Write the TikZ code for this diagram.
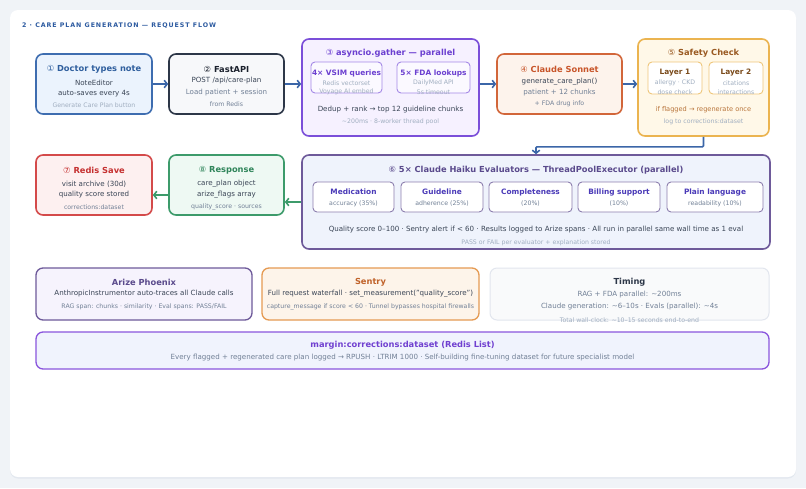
\documentclass[tikz,border=0pt]{standalone}
\usepackage{fontspec}
\setmainfont{DejaVu Sans}
\newfontfamily\hdrfont[LetterSpace=15]{DejaVu Sans}
\usetikzlibrary{arrows.meta,calc}
\definecolor{bgc}{HTML}{F0F3F7}
\definecolor{shd}{HTML}{E3E8EF}
\definecolor{hdrc}{HTML}{2C5AA0}
\definecolor{txd}{HTML}{3A4556}
\definecolor{txg}{HTML}{718096}
\definecolor{txl}{HTML}{A0AEC0}
\definecolor{bluB}{HTML}{3E6DB0}
\definecolor{bluF}{HTML}{EBF3FD}
\definecolor{bluT}{HTML}{2F5F9E}
\definecolor{arrB}{HTML}{3B66A8}
\definecolor{drkB}{HTML}{2D3748}
\definecolor{drkF}{HTML}{F7F8FA}
\definecolor{drkT}{HTML}{1A202C}
\definecolor{purB}{HTML}{7B4FD9}
\definecolor{purF}{HTML}{F6F1FF}
\definecolor{purT}{HTML}{6B3FD0}
\definecolor{purI}{HTML}{A488E6}
\definecolor{ornB}{HTML}{D2663A}
\definecolor{ornF}{HTML}{FDF3EC}
\definecolor{ornT}{HTML}{C8552A}
\definecolor{ylwB}{HTML}{EBB450}
\definecolor{ylwF}{HTML}{FFF8E8}
\definecolor{ylwI}{HTML}{EEC67A}
\definecolor{ylwT}{HTML}{9A5A22}
\definecolor{ylwD}{HTML}{7A4A1A}
\definecolor{ylwS}{HTML}{B8743A}
\definecolor{evB}{HTML}{6E5A9A}
\definecolor{evF}{HTML}{EFF3FC}
\definecolor{evT}{HTML}{5A4A8C}
\definecolor{evI}{HTML}{8C7EAE}
\definecolor{evN}{HTML}{4A3AB8}
\definecolor{redB}{HTML}{D44A4A}
\definecolor{redF}{HTML}{FDF0F0}
\definecolor{redT}{HTML}{C53030}
\definecolor{grnB}{HTML}{3D9B6B}
\definecolor{grnF}{HTML}{EEF9F3}
\definecolor{grnT}{HTML}{2F855A}
\definecolor{arzF}{HTML}{F6F3FD}
\definecolor{senB}{HTML}{E59A52}
\definecolor{senF}{HTML}{FDF4EA}
\definecolor{senT}{HTML}{C0622A}
\definecolor{tmB}{HTML}{E2E6EE}
\definecolor{tmF}{HTML}{F9FAFB}
\definecolor{mgB}{HTML}{8A55DD}
\definecolor{mgF}{HTML}{F0F3FD}
\definecolor{mgT}{HTML}{7040D0}
\newcommand\cnum[1]{{\mdseries #1}}
\tikzset{
  box/.style={rounded corners=7pt, line width=1.6pt, inner sep=0pt},
  ibox/.style={rounded corners=4pt, line width=0.9pt, inner sep=0pt, fill=white},
  ttl/.style={inner sep=0pt, font=\bfseries\fontsize{8.3}{10}\selectfont},
  ittl/.style={inner sep=0pt, font=\bfseries\fontsize{7.4}{9}\selectfont},
  bd/.style={inner sep=0pt, font=\fontsize{7.1}{9}\selectfont, text=txd},
  bg/.style={inner sep=0pt, font=\fontsize{7.1}{9}\selectfont, text=txg},
  sm/.style={inner sep=0pt, font=\fontsize{6.2}{8}\selectfont, text=txg},
  sl/.style={inner sep=0pt, font=\fontsize{6.2}{8}\selectfont, text=txl},
  arr/.style={line width=1.6pt, -{Straight Barb[length=3pt,width=7.5pt]}},
}
\begin{document}
\begin{tikzpicture}[x=1pt,y=-1pt]
\fill[bgc] (0,0) rectangle (806,488);
\useasboundingbox (0,0) rectangle (806,488);
\fill[shd, rounded corners=8pt] (10,11.5) rectangle (796,478.5);
\fill[white, rounded corners=8pt] (10,10) rectangle (796,477);

\node[anchor=west, inner sep=0pt, text=hdrc, font=\hdrfont\bfseries\fontsize{6.3}{8}\selectfont] (hdr) at (22,26) {2 · CARE PLAN GENERATION — REQUEST FLOW};

% Box 1
\node[box, draw=bluB, fill=bluF, minimum width=116pt, minimum height=60pt] (b1) at (94,84) {};
\node[ttl, text=bluT] (b1t) at (94,69) {\cnum{①} Doctor types note};
\node[bd] (b1a) at (94,83) {NoteEditor};
\node[bd] (b1b) at (94,94) {auto-saves every 4s};
\node[sl] (b1c) at (94,105) {Generate Care Plan button};

% Box 2
\node[box, draw=drkB, fill=drkF, minimum width=115pt, minimum height=60pt] (b2) at (226.5,84) {};
\node[ttl, text=drkT] (b2t) at (226.5,69) {\cnum{②} FastAPI};
\node[bd] (b2a) at (226.5,81) {POST /api/care-plan};
\node[bg] (b2b) at (226.5,93) {Load patient + session};
\node[sm] (b2c) at (226.5,104) {from Redis};

% Box 3
\node[box, draw=purB, fill=purF, minimum width=177pt, minimum height=97pt] (b3) at (390.5,87.5) {};
\node[ttl, text=purT] (b3t) at (390.5,53) {\cnum{③} asyncio.gather — parallel};
\node[ibox, draw=purI, fill=white!60!purF, minimum width=71pt, minimum height=31pt] (b3i1) at (346.5,77.5) {};
\node[ibox, draw=purI, fill=white!60!purF, minimum width=73pt, minimum height=31pt] (b3i2) at (433.5,77.5) {};
\node[ittl, text=purT] (b3i1t) at (346.5,73) {4× VSIM queries};
\node[sl] (b3i1a) at (346.5,83) {Redis vectorset};
\node[sl] (b3i1b) at (346.5,92) {Voyage AI embed};
\node[ittl, text=purT] (b3i2t) at (433.5,73) {5× FDA lookups};
\node[sl] (b3i2a) at (433.5,83) {DailyMed API};
\node[sl] (b3i2b) at (433.5,92) {5s timeout};
\node[bd] (b3a) at (390.5,110) {Dedup + rank → top 12 guideline chunks};
\node[sl] (b3b) at (390.5,122) {\textasciitilde200ms · 8-worker thread pool};

% Box 4
\node[box, draw=ornB, fill=ornF, minimum width=125pt, minimum height=60pt] (b4) at (559.5,84) {};
\node[ttl, text=ornT] (b4t) at (559.5,69) {\cnum{④} Claude Sonnet};
\node[bd] (b4a) at (559.5,82) {generate\_care\_plan()};
\node[bg] (b4b) at (559.5,93) {patient + 12 chunks};
\node[sm] (b4c) at (559.5,104) {+ FDA drug info};

% Box 5
\node[box, draw=ylwB, fill=ylwF, minimum width=131pt, minimum height=97pt] (b5) at (703.5,87.5) {};
\node[ttl, text=ylwT] (b5t) at (703.5,53) {\cnum{⑤} Safety Check};
\node[ibox, draw=ylwI, minimum width=54pt, minimum height=32pt] (b5i1) at (675,78) {};
\node[ibox, draw=ylwI, minimum width=54pt, minimum height=32pt] (b5i2) at (736,78) {};
\node[ittl, text=ylwD] (b5i1t) at (675,73) {Layer 1};
\node[sl] (b5i1a) at (675,83) {allergy · CKD};
\node[sl] (b5i1b) at (675,92) {dose check};
\node[ittl, text=ylwD] (b5i2t) at (736,73) {Layer 2};
\node[sl] (b5i2a) at (736,83) {citations};
\node[sl] (b5i2b) at (736,92) {interactions};
\node[inner sep=0pt, font=\fontsize{6.6}{8}\selectfont, text=ylwS] (b5a) at (703.5,110) {if flagged → regenerate once};
\node[sl] (b5b) at (703.5,122) {log to corrections:dataset};

% Box 6
\node[box, draw=evB, fill=evF, minimum width=468pt, minimum height=94pt] (b6) at (536,202) {};
\node[ttl, text=evT] (b6t) at (536,170) {\cnum{⑥} 5× Claude Haiku Evaluators — ThreadPoolExecutor (parallel)};
\node[ibox, draw=evI, minimum width=81pt, minimum height=30pt] (e1) at (353.5,197) {};
\node[ibox, draw=evI, minimum width=82pt, minimum height=30pt] (e2) at (442,197) {};
\node[ibox, draw=evI, minimum width=83pt, minimum height=30pt] (e3) at (530.5,197) {};
\node[ibox, draw=evI, minimum width=82pt, minimum height=30pt] (e4) at (619,197) {};
\node[ibox, draw=evI, minimum width=96pt, minimum height=30pt] (e5) at (715,197) {};
\node[ittl, text=evN] (e1t) at (353.5,192) {Medication};
\node[sm] (e1a) at (353.5,204) {accuracy (35\%)};
\node[ittl, text=evN] (e2t) at (442,192) {Guideline};
\node[sm] (e2a) at (442,204) {adherence (25\%)};
\node[ittl, text=evN] (e3t) at (530.5,192) {Completeness};
\node[sm] (e3a) at (530.5,204) {(20\%)};
\node[ittl, text=evN] (e4t) at (619,192) {Billing support};
\node[sm] (e4a) at (619,204) {(10\%)};
\node[ittl, text=evN] (e5t) at (715,192) {Plain language};
\node[sm] (e5a) at (715,204) {readability (10\%)};
\node[inner sep=0pt, font=\fontsize{7.1}{9}\selectfont, text=txd] (b6a) at (536,230) {Quality score 0–100 · Sentry alert if < 60 · Results logged to Arize spans · All run in parallel same wall time as 1 eval};
\node[sl] (b6b) at (536,243) {PASS or FAIL per evaluator + explanation stored};

% Box 7
\node[box, draw=redB, fill=redF, minimum width=116pt, minimum height=60pt] (b7) at (94,185) {};
\node[ttl, text=redT] (b7t) at (94,170) {\cnum{⑦} Redis Save};
\node[bd] (b7a) at (94,184) {visit archive (30d)};
\node[bd] (b7b) at (94,195) {quality score stored};
\node[sm] (b7c) at (94,207) {corrections:dataset};

% Box 8
\node[box, draw=grnB, fill=grnF, minimum width=115pt, minimum height=60pt] (b8) at (226.5,185) {};
\node[ttl, text=grnT] (b8t) at (226.5,170) {\cnum{⑧} Response};
\node[bd] (b8a) at (226.5,184) {care\_plan object};
\node[bd] (b8b) at (226.5,195) {arize\_flags array};
\node[sm] (b8c) at (226.5,207) {quality\_score · sources};

% Arrows
\draw[arr, arrB] (b1.east) -- (b2.west);
\draw[arr, arrB] (b2.east) -- (b2.east -| b3.west);
\draw[arr, arrB] (b3.east |- b4.west) -- (b4.west);
\draw[arr, arrB] (b4.east) -- (b4.east -| b5.west);
\draw[arr, arrB, rounded corners=1pt] (b5.south) -- ++(0,10) -| (b6.north);
\draw[arr, grnB] (b6.west) -- (b6.west -| b8.east);
\draw[arr, grnB] ([yshift=-10pt]b8.west) -- ([yshift=-10pt]b8.west -| b7.east);

% Row 3
\node[box, draw=evB, fill=arzF, line width=1.3pt, minimum width=216pt, minimum height=52pt] (arz) at (144,294) {};
\node[ttl, text=evT] (arzt) at (144,282) {Arize Phoenix};
\node[bd] (arza) at (144,294) {AnthropicInstrumentor auto-traces all Claude calls};
\node[sm] (arzb) at (144,307) {RAG span: chunks · similarity · Eval spans: PASS/FAIL};

\node[box, draw=senB, fill=senF, line width=1.3pt, minimum width=217pt, minimum height=52pt] (sen) at (370.5,294) {};
\node[ttl, text=senT] (sent) at (370.5,282) {Sentry};
\node[bd] (sena) at (370.5,294) {Full request waterfall · set\_measurement("quality\_score")};
\node[sm] (senb) at (370.5,307) {capture\_message if score < 60 · Tunnel bypasses hospital firewalls};

\node[box, draw=tmB, fill=tmF, line width=1pt, minimum width=279pt, minimum height=52pt] (tim) at (629.5,294) {};
\node[ttl, text=drkB] (timt) at (629.5,282) {Timing};
\node[bg] (tima) at (629.5,295) {RAG + FDA parallel: \textasciitilde200ms};
\node[bg] (timb) at (629.5,307) {Claude generation: \textasciitilde6–10s · Evals (parallel): \textasciitilde4s};
\node[sl] (timc) at (629.5,320) {Total wall-clock: \textasciitilde10–15 seconds end-to-end};

\node[box, draw=mgB, fill=mgF, line width=1.3pt, minimum width=733pt, minimum height=37pt] (mg) at (402.5,350.5) {};
\node[ttl, text=mgT] (mgt) at (402.5,345) {margin:corrections:dataset (Redis List)};
\node[inner sep=0pt, font=\fontsize{7.1}{9}\selectfont, text=txg] (mga) at (402.5,358) {Every flagged + regenerated care plan logged → RPUSH · LTRIM 1000 · Self-building fine-tuning dataset for future specialist model};
\end{tikzpicture}
\end{document}
